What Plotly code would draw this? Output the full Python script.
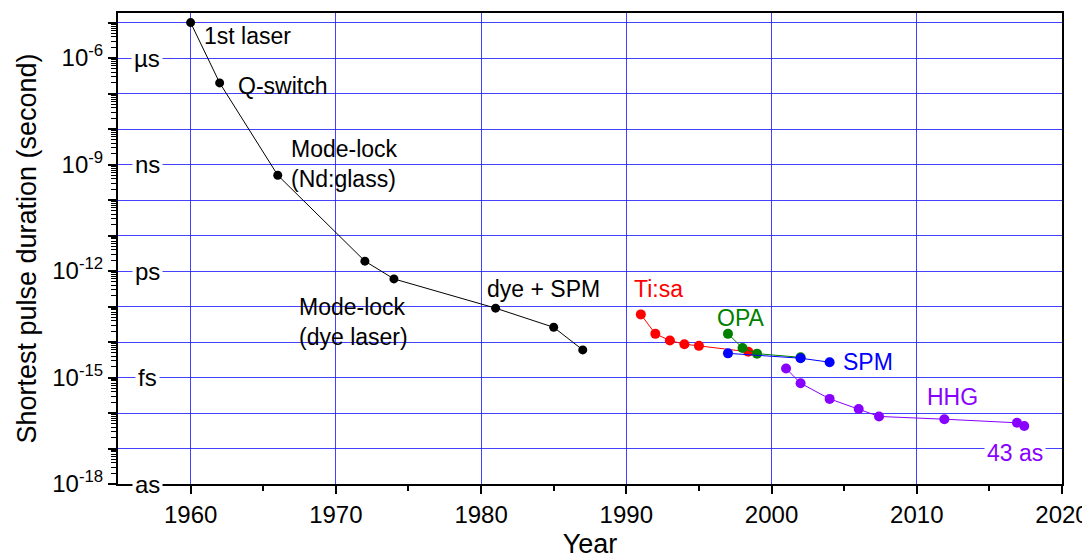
import plotly.graph_objects as go

# ---------------- data ----------------
black_years = [1960, 1962, 1966, 1972, 1974, 1981, 1985, 1987]
black_dur = [1e-5, 2e-7, 5e-10, 1.9e-12, 6e-13, 9e-14, 2.6e-14, 6e-15]

tisa_years = [1991, 1992, 1993, 1994, 1995, 1998.4]
tisa_dur = [6e-14, 1.7e-14, 1.1e-14, 8.7e-15, 7.8e-15, 5.3e-15]

opa_years = [1997, 1998, 1999, 2002]
opa_dur = [1.7e-14, 6.8e-15, 4.7e-15, 3.7e-15]

spm_years = [1997, 2002, 2004]
spm_dur = [4.8e-15, 3.5e-15, 2.7e-15]

hhg_years = [2001, 2002, 2004, 2006, 2007.4, 2011.9, 2016.9, 2017.4]
hhg_dur = [1.8e-15, 6.9e-16, 2.5e-16, 1.3e-16, 8e-17, 6.7e-17, 5.3e-17, 4.3e-17]

decade_exps = list(range(-18, -4))
label_exps = [-6, -9, -12, -15, -18]
unit_labels = ["µs", "ns", "ps", "fs", "as"]
x_ticks = [1960, 1970, 1980, 1990, 2000, 2010, 2020]
x_minor = [1965, 1975, 1985, 1995, 2005, 2015]

FONT = "Liberation Sans, Arial, sans-serif"
BLACK = "#000000"
RED = "#ff0000"
GREEN = "#008000"
BLUE = "#0000ff"
PURPLE = "#8800ff"

fig = go.Figure()

def add_series(xs, ys, color, size):
    fig.add_trace(go.Scatter(
        x=xs, y=ys, mode="lines+markers",
        line=dict(color=color, width=1),
        marker=dict(color=color, size=size, line=dict(width=0)),
        showlegend=False, hoverinfo="x+y"))

add_series(black_years, black_dur, BLACK, 9)
add_series(tisa_years, tisa_dur, RED, 10)
add_series(opa_years, opa_dur, GREEN, 10)
add_series(spm_years, spm_dur, BLUE, 10)
add_series(hhg_years, hhg_dur, PURPLE, 10)

# y ticks
tickvals = [10.0 ** e for e in decade_exps]
ticktext = [("10<sup>%d</sup>" % e) if e in label_exps else " " for e in decade_exps]
minor_vals = [m * 10.0 ** e for e in range(-18, -4) for m in range(2, 10)]

grid_col = "rgba(20,20,255,0.8)"

# the page body adds an 8px offset; compensate in size and margins
fig.update_layout(
    width=1082, height=551,
    margin=dict(l=110, r=28, t=5, b=75, autoexpand=False),
    paper_bgcolor="white", plot_bgcolor="white",
    font=dict(family=FONT, color="black", size=22),
    xaxis=dict(
        range=[1955, 2020], tickmode="array", tickvals=x_ticks,
        ticks="outside", ticklen=8, tickwidth=1.5, tickcolor="black",
        showline=True, linecolor="black", linewidth=2, mirror=True,
        showgrid=True, gridcolor=grid_col, gridwidth=1,
        zeroline=False,
        tickfont=dict(size=24, family=FONT),
        minor=dict(tickvals=x_minor,
                   ticks="outside", ticklen=5, tickwidth=1.5, tickcolor="black", showgrid=False),
        title=dict(text="Year", font=dict(size=27, family=FONT), standoff=10),
    ),
    yaxis=dict(
        type="log", range=[-18, -4.73],
        tickmode="array", tickvals=tickvals, ticktext=ticktext,
        ticks="outside", ticklen=8, tickwidth=1.5, tickcolor="black",
        showline=True, linecolor="black", linewidth=2, mirror=True,
        showgrid=True, gridcolor=grid_col, gridwidth=1,
        zeroline=False,
        tickfont=dict(size=24, family=FONT),
        minor=dict(tickvals=minor_vals, ticks="outside", ticklen=5,
                   tickwidth=1, tickcolor="black", showgrid=False),
        title=dict(text="Shortest pulse duration (second)",
                   font=dict(size=27, family=FONT), standoff=8),
    ),
)

ann = []
for e, u in zip(label_exps, unit_labels):
    ann.append(dict(x=1957.0, y=e, xref="x", yref="y", text=u, showarrow=False,
                    xanchor="center", yanchor="middle", bgcolor="white", borderpad=2,
                    font=dict(size=24, family=FONT, color="black")))

def label(x, y, text, color, bg=None):
    d = dict(x=x, y=y, xref="x", yref="y", text=text, showarrow=False,
             xanchor="left", yanchor="middle", align="left",
             font=dict(size=23, family=FONT, color=color))
    if bg:
        d["bgcolor"] = bg
        d["borderpad"] = 2
    ann.append(d)

label(1960.8, -5.38, "1st laser", BLACK)
label(1963.1, -6.79, "Q-switch", BLACK)
label(1966.8, -8.99, "Mode-lock<br>(Nd:glass)", BLACK)
label(1967.3, -13.44, "Mode-lock<br>(dye laser)", BLACK)
label(1980.3, -12.51, "dye + SPM", BLACK)
label(1990.4, -12.51, "Ti:sa", RED)
label(1996.1, -13.33, "OPA", GREEN)
label(2004.8, -14.56, "SPM", BLUE)
label(2010.6, -15.56, "HHG", PURPLE)
label(2014.6, -17.14, "43 as", PURPLE, bg="white")

fig.update_layout(annotations=ann)

fig.write_html("out.html")
